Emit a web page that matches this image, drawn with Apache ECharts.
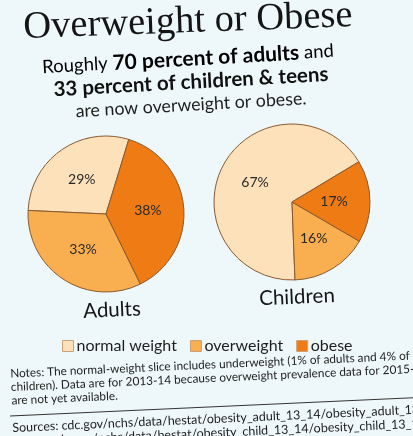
<!DOCTYPE html>
<html>
<head>
<meta charset="utf-8">
<script src="https://cdn.jsdelivr.net/npm/echarts@6/dist/echarts.min.js"></script>
<style>
  html, body { margin: 0; padding: 0; background: #eef8fa; }
  #chart { width: 413px; height: 436px; }
</style>
</head>
<body>
<div id="chart"></div>
<script>
"use strict";

/*-----data-----*/
var categories = ['normal weight', 'overweight', 'obese'];
var adults = [29, 33, 38];
var children = [67, 16, 17];
var groups = ['Adults', 'Children'];
var colors = ['#fde1bb', '#f9ae4f', '#ef7b14'];

var tilt = 0.045; // the photo is slightly rotated
var sans = 'Lato, "Open Sans", sans-serif';

function pieData(values) {
	return values.map(function (v, i) {
		return { name: categories[i], value: v };
	});
}

function pieSeries(name, values, center, startAngle) {
	return {
		name: name,
		type: 'pie',
		radius: 78,
		center: center,
		clockwise: false,
		startAngle: startAngle,
		data: pieData(values),
		label: {
			show: true,
			position: 'inside',
			formatter: '{c}%',
			fontFamily: sans,
			fontSize: 14,
			color: '#2a2a2a'
		},
		labelLine: { show: false },
		itemStyle: {
			borderColor: '#8a5a30',
			borderWidth: 1
		},
		emphasis: { disabled: true }
	};
}

var chart = echarts.init(document.getElementById('chart'));
var option = {
	backgroundColor: '#eef8fa',
	color: colors,
	legend: {
		data: categories,
		left: 57,
		top: 333,
		icon: 'rect',
		itemWidth: 11,
		itemHeight: 11,
		itemGap: 13,
		itemStyle: { borderColor: '#c9a27a', borderWidth: 1 },
		textStyle: { fontFamily: sans, fontSize: 16, color: '#1e1e1e', padding: [0, 0, 0, -2] }
	},
	series: [
		pieSeries(groups[0], adults, [106, 214], 73),
		pieSeries(groups[1], children, [292, 202], 31)
	],
	graphic: [
		{
			type: 'text', x: 188, y: 22, rotation: tilt * 0.8,
			style: {
				text: 'Overweight or Obese',
				font: '38.5px "Liberation Serif", serif',
				fill: '#151515', textAlign: 'center', textVerticalAlign: 'middle'
			}
		},
		{
			type: 'text', x: 188, y: 59, rotation: tilt * 1.25,
			style: {
				text: '{n|Roughly }{b|70 percent of adults}{n| and}',
				textAlign: 'center', textVerticalAlign: 'middle',
				rich: {
					n: { fontFamily: sans, fontSize: 18.5, color: '#1e1e1e' },
					b: { fontFamily: sans, fontSize: 21, fontWeight: 'bold', color: '#111' }
				}
			}
		},
		{
			type: 'text', x: 191, y: 82, rotation: tilt * 1.25,
			style: {
				text: '33 percent of children & teens',
				font: 'bold 20.5px ' + sans,
				fill: '#111', textAlign: 'center', textVerticalAlign: 'middle'
			}
		},
		{
			type: 'text', x: 191, y: 105, rotation: tilt * 1.25,
			style: {
				text: 'are now overweight or obese.',
				font: '17.8px ' + sans,
				fill: '#1e1e1e', textAlign: 'center', textVerticalAlign: 'middle'
			}
		},
		{
			type: 'text', x: 112, y: 310, rotation: tilt,
			style: {
				text: groups[0], font: '20.5px ' + sans,
				fill: '#151515', textAlign: 'center', textVerticalAlign: 'middle'
			}
		},
		{
			type: 'text', x: 297, y: 297, rotation: tilt,
			style: {
				text: groups[1], font: '20.5px ' + sans,
				fill: '#151515', textAlign: 'center', textVerticalAlign: 'middle'
			}
		},
		{
			type: 'text', x: 10, y: 367, rotation: tilt,
			style: {
				text: 'Notes: The normal-weight slice includes underweight (1% of adults and 4% of\n' +
					'children). Data are for 2013-14 because overweight prevalence data for 2015-16\n' +
					'are not yet available.',
				font: '11.8px ' + sans, lineHeight: 13.5,
				fill: '#1e1e1e', textAlign: 'left', textVerticalAlign: 'top'
			}
		},
		{
			type: 'line', x: 10, y: 416, rotation: tilt,
			shape: { x1: 0, y1: 0, x2: 410, y2: 0 },
			style: { stroke: '#333', lineWidth: 1 }
		},
		{
			type: 'text', x: 12, y: 421, rotation: tilt,
			style: {
				text: 'Sources: cdc.gov/nchs/data/hestat/obesity_adult_13_14/obesity_adult_13_14.htm\n' +
					'            cdc.gov/nchs/data/hestat/obesity_child_13_14/obesity_child_13_14.htm',
				font: '12.5px ' + sans, lineHeight: 14,
				fill: '#1e1e1e', textAlign: 'left', textVerticalAlign: 'top'
			}
		}
	]
};
chart.setOption(option);
window.addEventListener('resize', function () {
	chart.resize();
});
</script>
</body>
</html>
